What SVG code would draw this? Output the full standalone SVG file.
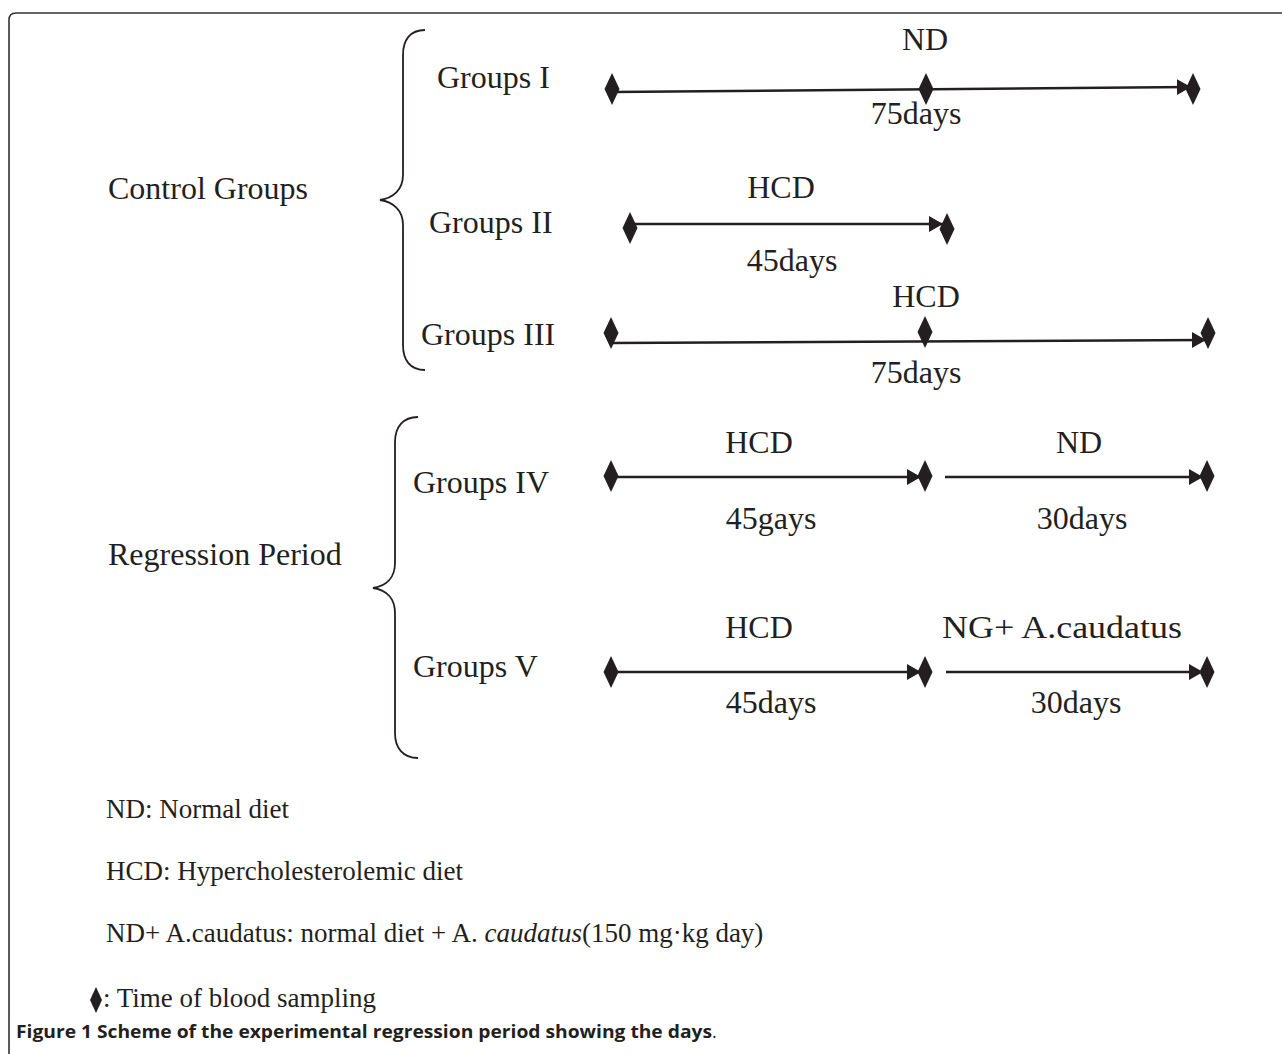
<svg xmlns="http://www.w3.org/2000/svg" xmlns:xlink="http://www.w3.org/1999/xlink" width="1282" height="1054" viewBox="0 0 1282 1054">
<style>
.lbl{font-family:"Liberation Serif","Times New Roman",serif;font-size:32px;fill:#231f20}
.leg{font-family:"Liberation Serif","Times New Roman",serif;font-size:27px;fill:#231f20}
.cap{font-family:"Open Sans","Liberation Sans",Arial,sans-serif;font-size:18px;font-weight:bold;fill:#231f20}
.ln{stroke:#231f20;stroke-width:2.6;fill:none}
.br{stroke:#231f20;stroke-width:1.8;fill:none}
.dm{fill:#231f20}
</style>
<defs>
<marker id="ah" markerUnits="userSpaceOnUse" markerWidth="16" markerHeight="18" refX="14" refY="8" orient="auto">
<path d="M0,0 L14,8 L0,16 Z" fill="#231f20"/>
</marker>
<path id="dm" d="M0,-16 L7.5,0 L0,16 L-7.5,0 Z"/>
</defs>
<rect width="1282" height="1054" fill="#fff"/>
<path d="M9,1054 L9,20 Q9,13 16,13 L1282,13" stroke="#333" stroke-width="1.6" fill="none"/>

<g id="connectors">
<line class="ln" x1="612" y1="92" x2="1191" y2="87" marker-end="url(#ah)"/>
<line class="ln" x1="630" y1="224" x2="943" y2="224" marker-end="url(#ah)"/>
<line class="ln" x1="611" y1="343" x2="1206" y2="340" marker-end="url(#ah)"/>
<line class="ln" x1="611" y1="477" x2="921" y2="477" marker-end="url(#ah)"/>
<line class="ln" x1="945" y1="477" x2="1203" y2="477" marker-end="url(#ah)"/>
<line class="ln" x1="611" y1="672" x2="921" y2="672" marker-end="url(#ah)"/>
<line class="ln" x1="946" y1="672" x2="1203" y2="672" marker-end="url(#ah)"/>
</g>

<g id="control-brace">
<path class="br" d="M425,30 C410,30 403,40 403,55 L403,175 C403,190 393,198 380,200 C393,202 403,210 403,225 L403,345 C403,360 410,370 425,370"/>
<text class="lbl" x="108" y="199">Control Groups</text>
</g>

<g id="group1">
<text class="lbl" x="437" y="88">Groups I</text>
<text class="lbl" x="925" y="50" text-anchor="middle">ND</text>
<text class="lbl" x="916" y="124" text-anchor="middle">75days</text>
<use href="#dm" class="dm" x="612" y="89"/>
<use href="#dm" class="dm" x="926" y="89"/>
<use href="#dm" class="dm" x="1193" y="89"/>
</g>

<g id="group2">
<text class="lbl" x="429" y="233">Groups II</text>
<text class="lbl" x="781" y="198" text-anchor="middle">HCD</text>
<text class="lbl" x="792" y="271" text-anchor="middle">45days</text>
<use href="#dm" class="dm" x="630" y="228"/>
<use href="#dm" class="dm" x="947" y="229"/>
</g>

<g id="group3">
<text class="lbl" x="421" y="345">Groups III</text>
<text class="lbl" x="926" y="307" text-anchor="middle">HCD</text>
<text class="lbl" x="916" y="383" text-anchor="middle">75days</text>
<use href="#dm" class="dm" x="611" y="333"/>
<use href="#dm" class="dm" x="925" y="332"/>
<use href="#dm" class="dm" x="1208" y="333"/>
</g>

<g id="regression-brace">
<path class="br" d="M418,417 C403,417 395,427 395,442 L395,563 C395,578 386,586 373,588 C386,590 395,598 395,613 L395,733 C395,748 403,758 418,758"/>
<text class="lbl" x="108" y="565">Regression Period</text>
</g>

<g id="group4">
<text class="lbl" x="413" y="493">Groups IV</text>
<text class="lbl" x="759" y="453" text-anchor="middle">HCD</text>
<text class="lbl" x="1079" y="453" text-anchor="middle">ND</text>
<text class="lbl" x="771" y="529" text-anchor="middle">45gays</text>
<text class="lbl" x="1082" y="529" text-anchor="middle">30days</text>
<use href="#dm" class="dm" x="611" y="476"/>
<use href="#dm" class="dm" x="925" y="476"/>
<use href="#dm" class="dm" x="1207" y="476"/>
</g>

<g id="group5">
<text class="lbl" x="413" y="677">Groups V</text>
<text class="lbl" x="759" y="638" text-anchor="middle">HCD</text>
<text class="lbl" x="1062" y="638" text-anchor="middle" textLength="240" lengthAdjust="spacingAndGlyphs">NG+ A.caudatus</text>
<text class="lbl" x="771" y="713" text-anchor="middle">45days</text>
<text class="lbl" x="1076" y="713" text-anchor="middle">30days</text>
<use href="#dm" class="dm" x="611" y="672"/>
<use href="#dm" class="dm" x="925" y="672"/>
<use href="#dm" class="dm" x="1207" y="672"/>
</g>

<g id="legend">
<text class="leg" x="106" y="818">ND: Normal diet</text>
<text class="leg" x="106" y="880">HCD: Hypercholesterolemic diet</text>
<text class="leg" x="106" y="942">ND+ A.caudatus: normal diet + A. <tspan font-style="italic">caudatus</tspan>(150 mg·kg day)</text>
<path class="dm" d="M96,987 L102,1000 L96,1013 L90,1000 Z"/>
<text class="leg" x="103" y="1007">: Time of blood sampling</text>
</g>

<text class="cap" x="16" y="1038"><tspan textLength="696" lengthAdjust="spacingAndGlyphs">Figure 1 Scheme of the experimental regression period showing the days</tspan><tspan font-weight="normal">.</tspan></text>
</svg>
